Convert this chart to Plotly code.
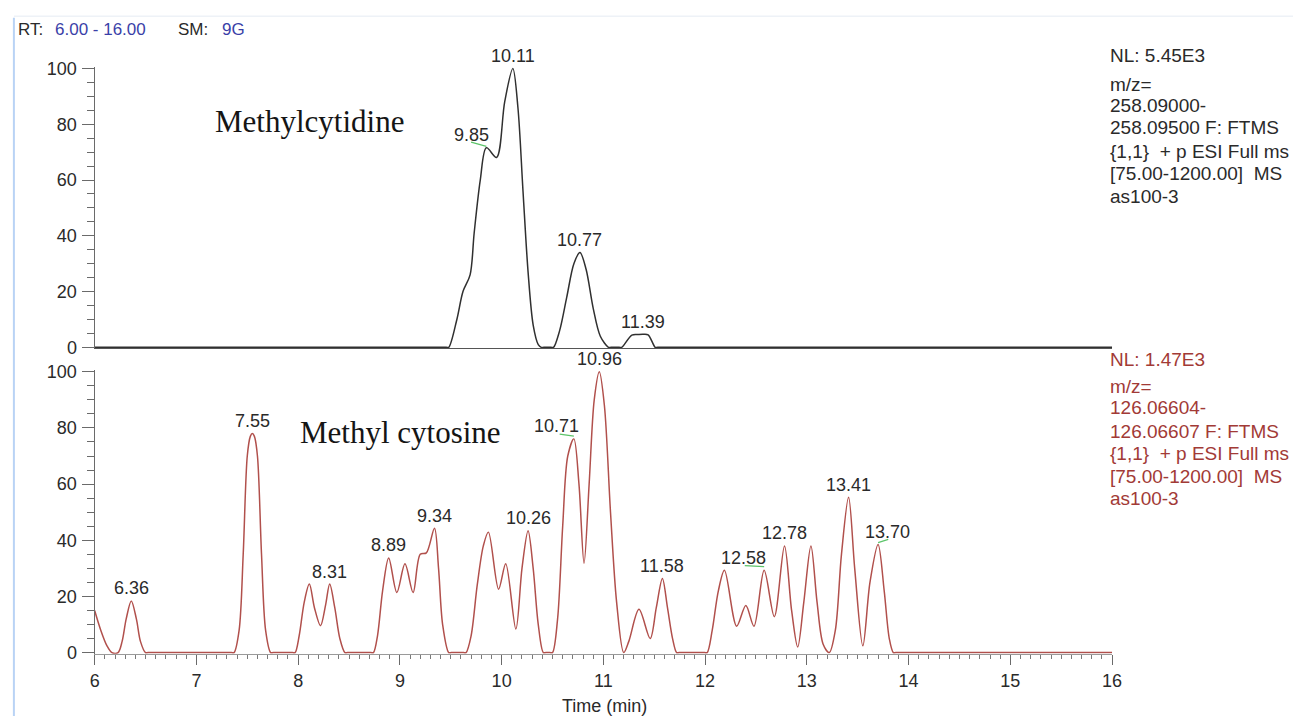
import plotly.graph_objects as go

# ---------------------------------------------------------------------------
# Extracted-ion chromatograms (retention time in min, relative abundance in %)
# ---------------------------------------------------------------------------
cytidine_rt = [6.00, 9.455, 9.48, 9.56, 9.62, 9.69, 9.73, 9.79, 9.85, 9.95,
               10.03, 10.11, 10.16, 10.21, 10.26, 10.31, 10.36, 10.39, 10.415, 10.485,
               10.51, 10.57, 10.64, 10.71, 10.77, 10.83, 10.90, 10.97, 11.05, 11.075,
               11.155, 11.18, 11.28, 11.34, 11.39, 11.44, 11.51, 11.535, 16.00]
cytidine_abund = [0, 0, 0, 10, 20, 26, 41, 60, 71.6, 68.1,
                  88, 100, 86, 56, 27, 8, 1, 0, 0, 0,
                  0, 6, 18, 30, 34, 28, 14, 4, 0, 0,
                  0, 0, 4.4, 4.6, 4.7, 4.5, 0, 0, 0]

cytosine_rt = [6.00, 6.06, 6.12, 6.17, 6.23, 6.27, 6.31, 6.36, 6.41, 6.45,
               6.50, 6.525, 7.345, 7.37, 7.42, 7.46, 7.50, 7.53, 7.55, 7.57,
               7.60, 7.64, 7.68, 7.73, 7.755, 7.945, 7.97, 8.01, 8.06, 8.11,
               8.16, 8.22, 8.27, 8.31, 8.36, 8.41, 8.46, 8.485, 8.715, 8.74,
               8.78, 8.83, 8.89, 8.97, 9.05, 9.13, 9.20, 9.26, 9.34, 9.38,
               9.42, 9.48, 9.505, 9.625, 9.65, 9.70, 9.76, 9.82, 9.87, 9.97,
               10.04, 10.14, 10.20, 10.26, 10.31, 10.36, 10.41, 10.435, 10.475, 10.50,
               10.55, 10.60, 10.65, 10.71, 10.76, 10.81, 10.86, 10.91, 10.96, 11.01,
               11.07, 11.13, 11.20, 11.25, 11.35, 11.46, 11.52, 11.58, 11.63, 11.68,
               11.72, 11.745, 11.995, 12.02, 12.07, 12.13, 12.19, 12.31, 12.40, 12.48,
               12.58, 12.68, 12.78, 12.85, 12.91, 12.97, 13.04, 13.10, 13.16, 13.22,
               13.28, 13.34, 13.41, 13.47, 13.55, 13.62, 13.70, 13.76, 13.81, 13.85,
               13.875, 16.00]
cytosine_abund = [15.0, 8, 2.5, 0, 0, 4, 12, 18.4, 12, 4,
                  0, 0, 0, 0, 8, 35, 70, 77, 78, 77,
                  70, 35, 8, 0, 0, 0, 0, 6, 18, 24.4,
                  16, 9.6, 17, 24.4, 16, 5, 0, 0, 0, 0,
                  6, 22, 33.7, 21.4, 31.6, 21.4, 35, 35.5, 44.3, 30,
                  10, 0, 0, 0, 0, 6, 24, 38, 42.9, 22.6,
                  31.6, 8.4, 30, 43.4, 30, 10, 0, 0, 0, 0,
                  12, 45, 70, 76.1, 60, 31.8, 60, 90, 100, 88,
                  50, 18, 0, 4, 15.4, 5, 16, 26.4, 16, 5,
                  0, 0, 0, 0, 8, 22, 29.3, 9.4, 16.8, 9.4,
                  29.3, 12.8, 38, 15, 2, 18, 38, 18, 3, 0,
                  8, 35, 55.3, 30, 2.4, 25, 38.5, 22, 5, 0,
                  0, 0]

# Apex retention times that carry a label
cytidine_peak_rt = [9.85, 10.11, 10.77, 11.39]
cytosine_peak_rt = [6.36, 7.55, 8.31, 8.89, 9.34, 10.26, 10.71, 10.96,
                    11.58, 12.58, 12.78, 13.41, 13.70]

x_ticks = [6, 7, 8, 9, 10, 11, 12, 13, 14, 15, 16]
y_ticks = [0, 20, 40, 60, 80, 100]

# ---------------------------------------------------------------------------
# Geometry (page pixels) and styling
# ---------------------------------------------------------------------------
W, H = 1303, 726


def px(xp):
    return xp / W


def py(yp):
    return 1 - yp / H


FONT = "Liberation Sans, Arial, sans-serif"
SERIF = "Liberation Serif, Times New Roman, serif"
TXT = "#2a2a2a"
BLUE = "#3a3fa8"
RED_TXT = "#a23a36"
TRACE_BLACK = "#303030"
TRACE_RED = "#b1504c"
AXIS = "#6a6a6a"
GREEN = "#5cc46a"
FS = 18

x_left, x_right = 90.7, 1120.0
YMAX = 100.5
top_zero, top_hundred, top_ymin = 348.0, 62.0, -0.25
bot_zero, bot_hundred, bot_ymin = 661.0, 373.0, -0.4


def ydomain(zero_px, hundred_px, ymin):
    per = (zero_px - hundred_px) / 100.0
    return [py(zero_px - ymin * per), py(zero_px - YMAX * per)]


fig = go.Figure()

fig.add_trace(go.Scatter(
    x=cytidine_rt, y=cytidine_abund, xaxis="x2", yaxis="y2",
    mode="lines", line=dict(color=TRACE_BLACK, width=1.5, shape="spline", smoothing=0.9),
    hoverinfo="skip", showlegend=False))

fig.add_trace(go.Scatter(
    x=cytosine_rt, y=cytosine_abund, xaxis="x", yaxis="y",
    mode="lines", line=dict(color=TRACE_RED, width=1.5, shape="spline", smoothing=0.9),
    hoverinfo="skip", showlegend=False))

# Horizontal offsets (px) of apex labels drawn beside a green marker
label_xshift = {9.85: -15, 10.71: -17, 12.58: -21, 13.70: 9}
# Green marker segments: (dt0, dt1, dy0, dy1) relative to the apex
green_marks = {9.85: (-0.15, 0.0, 2.0, 0.5),
               10.71: (-0.14, 0.0, 1.7, 1.0),
               12.58: (-0.19, 0.0, 1.7, 1.3),
               13.70: (0.0, 0.10, 0.7, 1.8)}

annotations = []


def label_peaks(peaks, rts, vals, yref, xref):
    for t in peaks:
        h = vals[rts.index(t)]
        annotations.append(dict(
            x=t, y=h, xref=xref, yref=yref, text=f"{t:.2f}", showarrow=False,
            xanchor="center", yanchor="middle", xshift=label_xshift.get(t, 0),
            yshift=12.5, font=dict(family=FONT, size=FS, color=TXT)))
        if t in green_marks:
            d0, d1, e0, e1 = green_marks[t]
            fig.add_trace(go.Scatter(
                x=[t + d0, t + d1], y=[h + e0, h + e1], xaxis=xref, yaxis=yref,
                mode="lines", line=dict(color=GREEN, width=1.3),
                hoverinfo="skip", showlegend=False))


label_peaks(cytidine_peak_rt, cytidine_rt, cytidine_abund, "y2", "x2")
label_peaks(cytosine_peak_rt, cytosine_rt, cytosine_abund, "y", "x")


def paper_text(text, xp, yp, size, color, family=FONT, xanchor="left"):
    annotations.append(dict(x=px(xp), y=py(yp), xref="paper", yref="paper", text=text,
                            showarrow=False, xanchor=xanchor, yanchor="middle",
                            font=dict(family=family, size=size, color=color)))


# Compound names
paper_text("Methylcytidine", 308, 116, 31, "#151515", SERIF, "center")
paper_text("Methyl cytosine", 400, 435, 31, "#151515", SERIF, "center")

# Header line
for txt, xp, col in [("RT:", 11.5, TXT), ("6.00 - 16.00", 49.0, BLUE),
                     ("SM:", 173.0, TXT), ("9G", 217.0, BLUE)]:
    paper_text(txt, xp, 22, 17, col)

# Scan-filter descriptions at the right of each panel
top_info = ["NL: 5.45E3", "m/z=", "258.09000-", "258.09500 F: FTMS",
            "{1,1}  + p ESI Full ms", "[75.00-1200.00]  MS", "as100-3"]
bot_info = ["NL: 1.47E3", "m/z=", "126.06604-", "126.06607 F: FTMS",
            "{1,1}  + p ESI Full ms", "[75.00-1200.00]  MS", "as100-3"]
top_rows = [49, 78, 100, 123, 147, 170, 193]
bot_rows = [360, 388, 410, 434, 457, 480, 503]
for lines, rows, col in ((top_info, top_rows, TXT), (bot_info, bot_rows, RED_TXT)):
    for txt, yp in zip(lines, rows):
        paper_text(txt, 1116.0, yp, 19, col)

# Axis title
paper_text("Time (min)", 606, 716, FS, TXT, xanchor="center")

yaxis_common = dict(
    tickvals=y_ticks, ticktext=[str(v) for v in y_ticks],
    showline=True, linecolor=AXIS, linewidth=1.3, ticks="outside", ticklen=12,
    tickwidth=1.2, tickcolor=AXIS, showgrid=False, zeroline=False,
    tickfont=dict(family=FONT, size=FS, color=TXT), ticklabelstandoff=1,
    minor=dict(dtick=5, tick0=0, ticks="outside", ticklen=7, tickcolor=AXIS,
               tickwidth=1, showgrid=False),
    fixedrange=True)

fig.update_layout(
    width=W, height=H, margin=dict(l=0, r=0, t=0, b=0),
    paper_bgcolor="white", plot_bgcolor="white",
    xaxis=dict(domain=[px(x_left), px(x_right)], range=[6, 16], anchor="y",
               tickvals=x_ticks, ticktext=[str(v) for v in x_ticks],
               showline=True, linecolor="#9a9a9a", linewidth=1.3, ticks="outside",
               ticklen=10, tickwidth=1.2, tickcolor=AXIS, showgrid=False, zeroline=False,
               tickfont=dict(family=FONT, size=FS, color=TXT), ticklabelstandoff=1,
               minor=dict(dtick=0.1, tick0=6, ticks="outside", ticklen=4, tickcolor="#7a7a7a",
                          tickwidth=1, showgrid=False),
               fixedrange=True),
    xaxis2=dict(domain=[px(x_left), px(x_right)], range=[6, 16], anchor="y2",
                matches="x", showline=True, linecolor="#555555", linewidth=1.0,
                ticks="", showticklabels=False, showgrid=False, zeroline=False,
                fixedrange=True),
    yaxis=dict(domain=ydomain(bot_zero, bot_hundred, bot_ymin), range=[bot_ymin, YMAX],
               anchor="x", **yaxis_common),
    yaxis2=dict(domain=ydomain(top_zero, top_hundred, top_ymin), range=[top_ymin, YMAX],
                anchor="x2", **yaxis_common),
    annotations=annotations,
    shapes=[
        dict(type="line", xref="paper", yref="paper", x0=px(9), x1=px(9),
             y0=0, y1=py(10), line=dict(color="#b9d3f5", width=2)),
        dict(type="line", xref="paper", yref="paper", x0=px(9), x1=1,
             y0=py(8.5), y1=py(8.5), line=dict(color="#eef2f7", width=1.5)),
    ],
)

fig.write_html("out.html")
